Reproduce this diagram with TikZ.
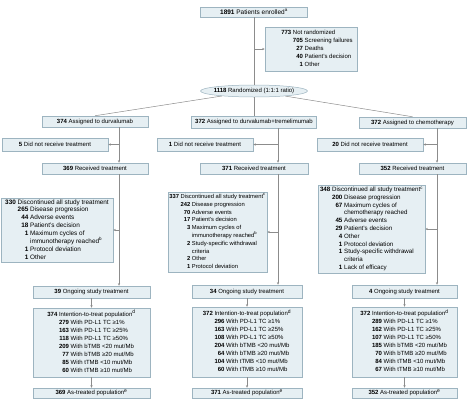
\documentclass[tikz,border=0pt]{standalone}
\usepackage{fontspec}
\setmainfont{Liberation Sans}
\usetikzlibrary{shapes.geometric, arrows.meta, positioning, calc}
\definecolor{boxfill}{HTML}{E6EFF3}
\definecolor{boxline}{HTML}{9DB4C0}
\definecolor{linegray}{HTML}{8C8C8C}

\begin{document}
\begin{tikzpicture}[x=1pt, y=-1pt,
    box/.style={rectangle, draw=boxline, fill=boxfill, line width=0.5pt, inner sep=0pt, font=\fontsize{6}{8}\selectfont},
    link/.style={draw=linegray, line width=0.5pt},
    arrow/.style={link, -{Stealth[length=2.6pt,width=2.2pt]}}]
    \useasboundingbox (0,0) rectangle (468,408);

    % Arruolamento e randomizzazione
    \node[box, minimum width=107pt, minimum height=10pt, font=\fontsize{6.5}{8}\selectfont] (enrolled) at (254,12) {\textbf{1891} Patients enrolled\textsuperscript{a}};
    \node[box, minimum width=92pt, minimum height=44pt] (notrand) at (311,49) {\hspace*{12pt}\begin{tabular}{@{}r@{\ }r@{\ }l@{}}
        \textbf{773} & \multicolumn{2}{@{}l@{}}{Not randomized}\\
        & \textbf{705} & Screening failures\\
        & \textbf{27} & Deaths\\
        & \textbf{40} & Patient’s decision\\
        & \textbf{1} & Other
    \end{tabular}};
    \node[box, ellipse, minimum width=107pt, minimum height=12pt] (rand) at (254,91) {\makebox[0pt]{\textbf{1118} Randomized (1:1:1 ratio)}};

    % Bracci assegnati
    \node[box, minimum width=106pt, minimum height=11pt] (assL) at (95,121.5) {\textbf{374} Assigned to durvalumab};
    \node[box, minimum width=125pt, minimum height=12pt] (assM) at (254,122) {\textbf{372} Assigned to durvalumab+tremelimumab};
    \node[box, minimum width=107pt, minimum height=11pt] (assR) at (412.5,122.5) {\textbf{372} Assigned to chemotherapy};

    % Nessun trattamento
    \node[box, minimum width=106pt, minimum height=13pt] (noL) at (55,144.5) {\textbf{5} Did not receive treatment};
    \node[box, minimum width=96pt, minimum height=13pt] (noM) at (205,144.5) {\textbf{1} Did not receive treatment};
    \node[box, minimum width=106pt, minimum height=13pt] (noR) at (370,144.5) {\textbf{20} Did not receive treatment};

    % Trattamento ricevuto
    \node[box, minimum width=106pt, minimum height=11pt] (recL) at (95,168.5) {\textbf{369} Received treatment};
    \node[box, minimum width=108pt, minimum height=11pt] (recM) at (254,168.5) {\textbf{371} Received treatment};
    \node[box, minimum width=107pt, minimum height=11pt] (recR) at (412.5,168.5) {\textbf{352} Received treatment};

    % Interruzioni
    \node[box, minimum width=112pt, minimum height=64pt, font=\fontsize{6.4}{7.8}\selectfont] (discL) at (57,230) {\begin{tabular}{@{}r@{\ }r@{\ }l@{}}
        \textbf{330} & \multicolumn{2}{@{}l@{}}{Discontinued all study treatment}\\
        & \textbf{265} & Disease progression\\
        & \textbf{44} & Adverse events\\
        & \textbf{18} & Patient’s decision\\
        & \textbf{1} & Maximum cycles of\\
        & & immunotherapy reached\textsuperscript{b}\\
        & \textbf{1} & Protocol deviation\\
        & \textbf{1} & Other
    \end{tabular}};
    \node[box, minimum width=99pt, minimum height=80pt, font=\fontsize{5.8}{7.8}\selectfont] (discM) at (217.5,232) {\begin{tabular}{@{}r@{\ }r@{\ }l@{}}
        \textbf{337} & \multicolumn{2}{@{}l@{}}{Discontinued all study treatment\textsuperscript{c}}\\
        & \textbf{242} & Disease progression\\
        & \textbf{70} & Adverse events\\
        & \textbf{17} & Patient’s decision\\
        & \textbf{3} & Maximum cycles of\\
        & & immunotherapy reached\textsuperscript{b}\\
        & \textbf{2} & Study-specific withdrawal\\
        & & criteria\\
        & \textbf{2} & Other\\
        & \textbf{1} & Protocol deviation
    \end{tabular}};
    \node[box, minimum width=107pt, minimum height=88pt, font=\fontsize{6.2}{7.8}\selectfont] (discR) at (371.5,229) {\begin{tabular}{@{}r@{\ }r@{\ }l@{}}
        \textbf{348} & \multicolumn{2}{@{}l@{}}{Discontinued all study treatment\textsuperscript{c}}\\
        & \textbf{200} & Disease progression\\
        & \textbf{67} & Maximum cycles of\\
        & & chemotherapy reached\\
        & \textbf{45} & Adverse events\\
        & \textbf{29} & Patient’s decision\\
        & \textbf{4} & Other\\
        & \textbf{1} & Protocol deviation\\
        & \textbf{1} & Study-specific withdrawal\\
        & & criteria\\
        & \textbf{1} & Lack of efficacy
    \end{tabular}};

    % Trattamento in corso
    \node[box, minimum width=117pt, minimum height=12pt] (ongL) at (91.5,292) {\textbf{39} Ongoing study treatment};
    \node[box, minimum width=110pt, minimum height=13pt] (ongM) at (247,291.5) {\textbf{34} Ongoing study treatment};
    \node[box, minimum width=105pt, minimum height=13pt] (ongR) at (404.5,291.5) {\textbf{4} Ongoing study treatment};

    % Popolazioni ITT
    \node[box, minimum width=117pt, minimum height=69pt] (ittL) at (91.5,342.5) {\begin{tabular}{@{}r@{\ }r@{\ }l@{}}
        \textbf{374} & \multicolumn{2}{@{}l@{}}{Intention-to-treat population\textsuperscript{d}}\\
        & \textbf{279} & With PD-L1 TC ≥1\%\\
        & \textbf{163} & With PD-L1 TC ≥25\%\\
        & \textbf{118} & With PD-L1 TC ≥50\%\\
        & \textbf{209} & With bTMB <20 mut/Mb\\
        & \textbf{77} & With bTMB ≥20 mut/Mb\\
        & \textbf{85} & With tTMB <10 mut/Mb\\
        & \textbf{60} & With tTMB ≥10 mut/Mb
    \end{tabular}};
    \node[box, minimum width=110pt, minimum height=70pt] (ittM) at (247,342) {\begin{tabular}{@{}r@{\ }r@{\ }l@{}}
        \textbf{372} & \multicolumn{2}{@{}l@{}}{Intention-to-treat population\textsuperscript{d}}\\
        & \textbf{296} & With PD-L1 TC ≥1\%\\
        & \textbf{163} & With PD-L1 TC ≥25\%\\
        & \textbf{108} & With PD-L1 TC ≥50\%\\
        & \textbf{204} & With bTMB <20 mut/Mb\\
        & \textbf{64} & With bTMB ≥20 mut/Mb\\
        & \textbf{104} & With tTMB <10 mut/Mb\\
        & \textbf{60} & With tTMB ≥10 mut/Mb
    \end{tabular}};
    \node[box, minimum width=105pt, minimum height=70pt] (ittR) at (404.5,342) {\begin{tabular}{@{}r@{\ }r@{\ }l@{}}
        \textbf{372} & \multicolumn{2}{@{}l@{}}{Intention-to-treat population\textsuperscript{d}}\\
        & \textbf{289} & With PD-L1 TC ≥1\%\\
        & \textbf{162} & With PD-L1 TC ≥25\%\\
        & \textbf{107} & With PD-L1 TC ≥50\%\\
        & \textbf{185} & With bTMB <20 mut/Mb\\
        & \textbf{70} & With bTMB ≥20 mut/Mb\\
        & \textbf{84} & With tTMB <10 mut/Mb\\
        & \textbf{67} & With tTMB ≥10 mut/Mb
    \end{tabular}};

    % Popolazioni as-treated
    \node[box, minimum width=117pt, minimum height=10pt] (atL) at (91.5,393) {\textbf{369} As-treated population\textsuperscript{e}};
    \node[box, minimum width=110pt, minimum height=10pt] (atM) at (247,393) {\textbf{371} As-treated population\textsuperscript{e}};
    \node[box, minimum width=105pt, minimum height=10pt] (atR) at (404.5,393) {\textbf{352} As-treated population\textsuperscript{e}};

    % Linee verticali dei bracci
    \coordinate (trL) at (119,0);
    \coordinate (trM) at (278,0);
    \coordinate (trR) at (437,0);

    % Connessioni in alto
    \draw[link] (enrolled) -- (rand);
    \draw[arrow] (enrolled |- notrand.west) -- (notrand.west);
    \draw[link] (rand) -- (assL.north);
    \draw[link] (rand) -- (assM.north);
    \draw[link] (rand) -- (assR.north);

    % Connessioni braccio durvalumab
    \draw[arrow] (assL.south -| trL) -- (recL.north -| trL);
    \draw[arrow] (noL.east -| trL) -- (noL.east);
    \draw[arrow] (recL.south -| trL) -- (ongL.north -| trL);
    \draw[arrow] (discL.east -| trL) -- (discL.east);
    \draw[arrow] (ongL) -- (ittL);
    \draw[arrow] (ittL) -- (atL);

    % Connessioni braccio durvalumab+tremelimumab
    \draw[arrow] (assM.south -| trM) -- (recM.north -| trM);
    \draw[arrow] (noM.east -| trM) -- (noM.east);
    \draw[arrow] (recM.south -| trM) -- (ongM.north -| trM);
    \draw[arrow] (discM.east -| trM) -- (discM.east);
    \draw[arrow] (ongM) -- (ittM);
    \draw[arrow] (ittM) -- (atM);

    % Connessioni braccio chemioterapia
    \draw[arrow] (assR.south -| trR) -- (recR.north -| trR);
    \draw[arrow] (noR.east -| trR) -- (noR.east);
    \draw[arrow] (recR.south -| trR) -- (ongR.north -| trR);
    \draw[arrow] (discR.east -| trR) -- (discR.east);
    \draw[arrow] (ongR) -- (ittR);
    \draw[arrow] (ittR) -- (atR);
\end{tikzpicture}
\end{document}
